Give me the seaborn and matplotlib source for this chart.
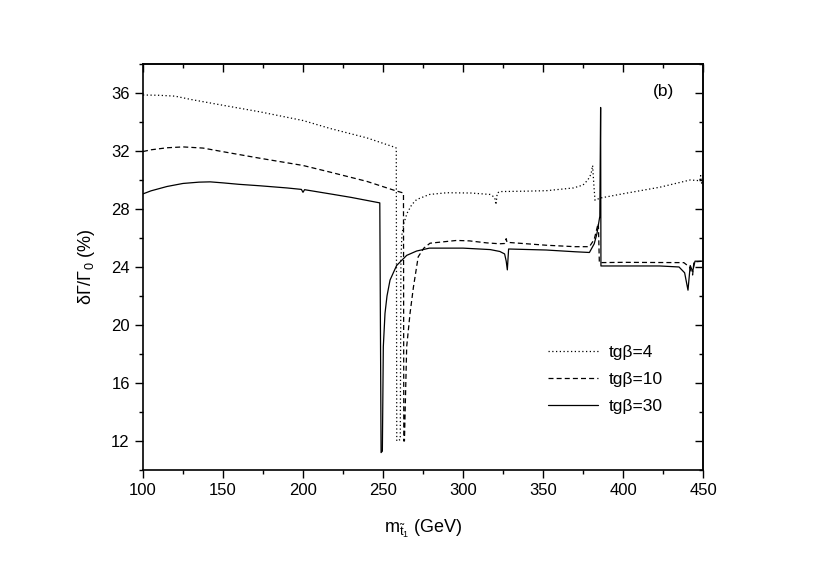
import pandas as pd
import matplotlib.pyplot as plt
import seaborn as sns
from matplotlib.ticker import MultipleLocator

# tg(beta) = 4  (dotted)
x_tb4 = [100, 110, 120, 130, 140, 150, 173, 200, 217, 240, 257.5, 258.3, 258.6, 260.8, 261.2, 261.8,
         263, 265, 268, 271, 279, 290, 305, 317, 319.8, 320.6, 321.4, 323, 340, 352, 369, 375,
         378, 380, 381, 381.8, 382.5, 385.6, 400, 423, 442, 448, 448.5, 449.2, 450]
y_tb4 = [35.86, 35.84, 35.78, 35.55, 35.35, 35.15, 34.7, 34.1, 33.55, 32.9, 32.25, 32.2, 12.0, 12.1, 24.5, 26.2,
         27.0, 27.7, 28.3, 28.65, 29.0, 29.12, 29.1, 29.0, 28.8, 28.3, 29.1, 29.2, 29.23, 29.26, 29.45, 29.65,
         30.0, 30.4, 31.0, 29.6, 28.6, 28.75, 29.05, 29.5, 30.0, 29.95, 30.3, 29.7, 30.0]

# tg(beta) = 10  (dashed)
x_tb10 = [100, 105, 115, 125, 137.5, 150, 173, 200, 217, 240, 257.5, 262.8, 263.0, 263.4, 264.8, 266.9,
          269, 272, 275.5, 279.4, 296, 304, 315, 323, 326, 327, 327.5, 352, 370, 379, 382, 384,
          384.6, 385.2, 400, 438, 441.5, 443.5, 444.3, 450]
y_tb10 = [31.96, 32.08, 32.22, 32.28, 32.2, 31.95, 31.5, 31.0, 30.54, 29.9, 29.27, 29.1, 12.0, 12.0, 18.5, 20.8,
          22.6, 24.7, 25.3, 25.64, 25.83, 25.8, 25.66, 25.6, 25.62, 25.95, 25.7, 25.5, 25.4, 25.4, 25.9, 26.8,
          27.0, 24.3, 24.32, 24.3, 24.0, 23.45, 24.35, 24.4]

# tg(beta) = 30  (solid)
x_tb30 = [100, 105, 115, 125, 135, 142, 150, 160, 173, 190, 199, 200, 201, 217, 230, 248, 248.8, 249.6, 250.2,
          251.25, 252.5, 254.4, 258.5, 264.8, 271, 279, 300, 317, 323, 326, 327, 327.7, 328.5, 352,
          370, 379, 382, 383.7, 385.5, 386, 386.2, 423, 435, 438.5, 440.6, 442, 443.5, 445, 450]
y_tb30 = [29.04, 29.25, 29.55, 29.76, 29.85, 29.87, 29.8, 29.7, 29.6, 29.45, 29.35, 29.15, 29.33, 29.04, 28.8,
          28.42, 11.2, 11.3, 18.5,
          20.8, 22.0, 23.1, 24.1, 24.8, 25.1, 25.3, 25.3, 25.2, 25.07, 24.9, 24.4, 23.8, 25.24, 25.17,
          25.05, 25.0, 25.6, 26.3, 27.5, 35.0, 24.07, 24.07, 24.0, 23.6, 22.4, 24.1, 23.7, 24.4, 24.4]

labels = ['tg\u03b2=4', 'tg\u03b2=10', 'tg\u03b2=30']

sns.set_style('ticks')
plt.rcParams['font.family'] = ['Liberation Sans', 'DejaVu Sans']
plt.rcParams['mathtext.fontset'] = 'custom'
plt.rcParams['mathtext.rm'] = 'Liberation Sans'
plt.rcParams['mathtext.it'] = 'Liberation Sans'
plt.rcParams['mathtext.default'] = 'regular'
plt.rcParams['text.color'] = 'black'
plt.rcParams['axes.labelcolor'] = 'black'
plt.rcParams['xtick.color'] = 'black'
plt.rcParams['ytick.color'] = 'black'

fig = plt.figure(figsize=(8.17, 5.66), dpi=100)
ax = fig.add_axes([0.175, 0.1696, 0.6855, 0.7174])

styles = [(0, (1, 2)), (0, (4, 2.5)), '-']
for xs, ys, lab, ls in zip([x_tb4, x_tb10, x_tb30], [y_tb4, y_tb10, y_tb30], labels, styles):
    df = pd.DataFrame({'m': xs, 'dG': ys})
    sns.lineplot(data=df, x='m', y='dG', ax=ax, estimator=None, sort=False,
                 color='black', linewidth=0.9, linestyle=ls, label=lab)

ax.set_xlim(100, 450)
ax.set_ylim(10, 38)
ax.xaxis.set_major_locator(MultipleLocator(50))
ax.xaxis.set_minor_locator(MultipleLocator(25))
ax.yaxis.set_major_locator(MultipleLocator(4))
ax.yaxis.set_minor_locator(MultipleLocator(2))
ax.yaxis.set_major_formatter(lambda v, p: f'{v:.0f}' if 12 <= v <= 36 else '')

for s in ax.spines.values():
    s.set_visible(True)
    s.set_linewidth(1.2)
    s.set_color('black')

# bottom/left ticks outward, mirrored top/right ticks inward
ax.tick_params(which='both', direction='out', top=False, right=False, width=1.0, labelsize=12)
ax.tick_params(which='major', length=6)
ax.tick_params(which='minor', length=3)
sec_x = ax.secondary_xaxis('top')
sec_x.xaxis.set_major_locator(MultipleLocator(50))
sec_x.xaxis.set_minor_locator(MultipleLocator(25))
sec_x.tick_params(which='both', direction='in', labeltop=False, width=1.0)
sec_x.tick_params(which='major', length=6)
sec_x.tick_params(which='minor', length=3)
sec_x.spines['top'].set_linewidth(1.2)
sec_y = ax.secondary_yaxis('right')
sec_y.yaxis.set_major_locator(MultipleLocator(4))
sec_y.yaxis.set_minor_locator(MultipleLocator(2))
sec_y.tick_params(which='both', direction='in', labelright=False, width=1.0)
sec_y.tick_params(which='major', length=6)
sec_y.tick_params(which='minor', length=3)
sec_y.spines['right'].set_linewidth(1.2)

ax.set_xlabel(r'$m_{\tilde{t}_1}$ (GeV)', fontsize=13, labelpad=14)
ax.set_ylabel(r'$\delta\Gamma/\Gamma_0$ (%)', fontsize=13, labelpad=10)

ax.text(425.5, 36.1, '(b)', fontsize=12.5, ha='center', va='center')

ax.legend(loc='center left', bbox_to_anchor=(0.723, 0.222), frameon=False, fontsize=12.5,
          handlelength=2.9, handletextpad=0.6, labelspacing=0.68, borderpad=0, borderaxespad=0)

fig.savefig('out.png', dpi=100)
